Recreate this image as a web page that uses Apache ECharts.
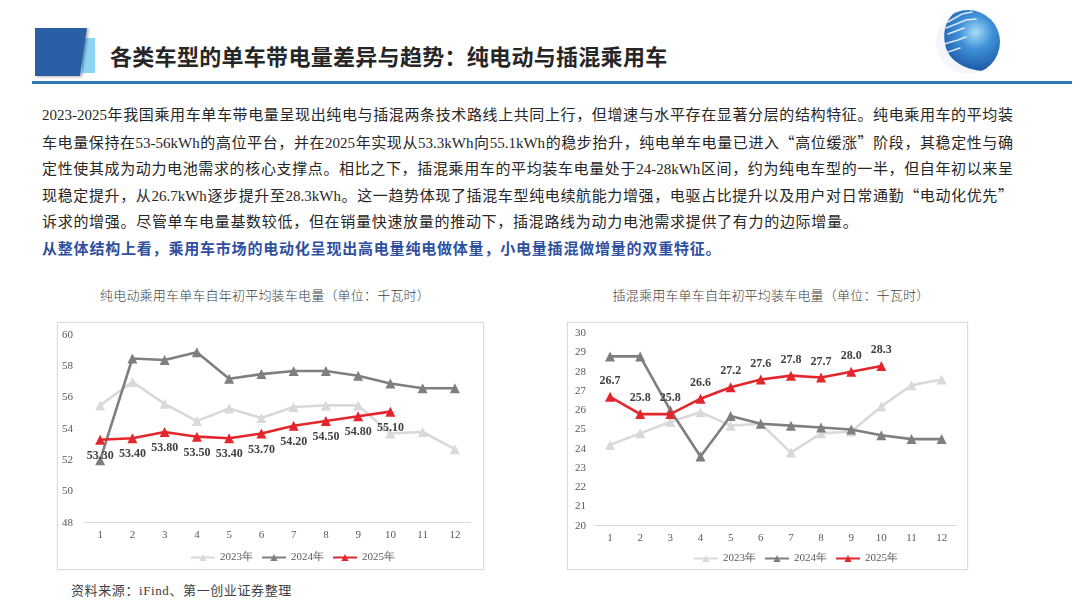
<!DOCTYPE html>
<html>
<head>
<meta charset="utf-8">
<script src="https://cdn.jsdelivr.net/npm/echarts@6/dist/echarts.min.js"></script>
<style>
  html, body { margin:0; padding:0; width:1080px; height:608px; background:#fff; overflow:hidden; }
  #page { position:relative; width:1080px; height:608px; }
  .abs { position:absolute; }
  #title { left:110px; top:40px; font-family:"Noto Sans CJK SC", sans-serif; font-weight:700; font-size:22px; color:#262626; line-height:30px; white-space:nowrap; letter-spacing:0.3px; }
  #rule { left:32px; top:81px; width:1040px; height:3px; background:#2e75b6; }
  .para { left:42px; width:971px; font-family:"Liberation Serif","Noto Sans CJK SC",serif; font-size:15px; color:#262626; line-height:26.7px; height:26.7px; white-space:nowrap; font-weight:400; }
  .just { text-align:justify; text-align-last:justify; white-space:normal; overflow:hidden; }
  .q { font-family:"Noto Sans CJK SC", sans-serif; }
  .blue { color:#2f4f9f; font-weight:700; letter-spacing:0.8px; }
  .ctitle { font-family:"Noto Sans CJK SC", sans-serif; font-size:13px; color:#404040; line-height:20px; white-space:nowrap; font-weight:300; letter-spacing:0.2px; transform:translateX(-50%); }
  .box { border:1px solid #dcdcdc; box-shadow:0 0 2px rgba(0,0,0,0.08); background:#fff; }
  #src { left:71px; top:581px; font-family:"Liberation Serif","Noto Sans CJK SC",serif; font-size:13px; color:#404040; line-height:20px; letter-spacing:0.6px; white-space:nowrap; }
  #chart { position:absolute; left:0; top:0; width:1080px; height:608px; z-index:2; }
</style>
</head>
<body>
<div id="page">
  <svg class="abs" style="left:0;top:0" width="1080" height="90">
    <defs>
      <radialGradient id="g1" cx="0.62" cy="0.35" r="0.75">
        <stop offset="0" stop-color="#a8dcf7"/>
        <stop offset="0.35" stop-color="#3f91d8"/>
        <stop offset="0.8" stop-color="#1d5aa8"/>
        <stop offset="1" stop-color="#173f86"/>
      </radialGradient>
      <filter id="sh" x="-20%" y="-20%" width="140%" height="140%">
        <feDropShadow dx="2" dy="1" stdDeviation="1.2" flood-color="#000" flood-opacity="0.3"/>
      </filter>
    </defs>
    <rect x="82" y="38" width="13" height="35" fill="#8dd4f5"/>
    <polygon points="35,28 87,28 80,76 35,76" fill="#2c5ea6" filter="url(#sh)"/>
    <circle cx="968" cy="42" r="32" fill="url(#g1)"/>
    <path d="M948 12 C926 28 924 62 960 75 C974 80 990 77 998 70 C976 74 952 66 946 48 C942 34 945 22 953 14 Z" fill="#fff" opacity="0.95"/>
    <path d="M948 22 L962 14 L972 12 M946 28 L966 20 L976 19 M948 34 L964 28 M944 44 L958 40 L966 37 M948 52 L960 48" stroke="#fff" stroke-width="1.6" stroke-linecap="round" opacity="0.8" fill="none"/>
  </svg>
  <div id="title" class="abs">各类车型的单车带电量差异与趋势：纯电动与插混乘用车</div>
  <div id="rule" class="abs"></div>

  <div class="abs para just" style="top:102.3px">2023-2025年我国乘用车单车带电量呈现出纯电与插混两条技术路线上共同上行，但增速与水平存在显著分层的结构特征。纯电乘用车的平均装</div>
  <div class="abs para just" style="top:129px">车电量保持在53-56kWh的高位平台，并在2025年实现从53.3kWh向55.1kWh的稳步抬升，纯电单车电量已进入<span class="q">“</span>高位缓涨<span class="q">”</span>阶段，其稳定性与确</div>
  <div class="abs para just" style="top:155.7px">定性使其成为动力电池需求的核心支撑点。相比之下，插混乘用车的平均装车电量处于24-28kWh区间，约为纯电车型的一半，但自年初以来呈</div>
  <div class="abs para just" style="top:182.4px">现稳定提升，从26.7kWh逐步提升至28.3kWh。这一趋势体现了插混车型纯电续航能力增强，电驱占比提升以及用户对日常通勤<span class="q">“</span>电动化优先<span class="q">”</span></div>
  <div class="abs para" style="top:209.1px;letter-spacing:0.7px">诉求的增强。尽管单车电量基数较低，但在销量快速放量的推动下，插混路线为动力电池需求提供了有力的边际增量。</div>
  <div class="abs para blue" style="top:235.8px">从整体结构上看，乘用车市场的电动化呈现出高电量纯电做体量，小电量插混做增量的双重特征。</div>

  <div class="abs ctitle" style="left:265px;top:285px">纯电动乘用车单车自年初平均装车电量（单位：千瓦时）</div>
  <div class="abs ctitle" style="left:771px;top:285px">插混乘用车单车自年初平均装车电量（单位：千瓦时）</div>

  <div class="abs box" style="left:57px;top:322px;width:425px;height:246px"></div>
  <div class="abs box" style="left:567px;top:322px;width:399px;height:246px"></div>

  <div id="src" class="abs">资料来源：iFind、第一创业证券整理</div>
  <div id="chart"></div>
</div>
<script>
const months = ['1','2','3','4','5','6','7','8','9','10','11','12'];
const seriesNames = ['2023年','2024年','2025年'];
const bev2023 = [55.5,57.0,55.6,54.5,55.3,54.7,55.4,55.5,55.5,53.7,53.8,52.7];
const bev2024 = [52.0,58.5,58.4,58.9,57.2,57.5,57.7,57.7,57.4,56.9,56.6,56.6];
const bev2025 = [53.3,53.4,53.8,53.5,53.4,53.7,54.2,54.5,54.8,55.1];
const phev2023 = [24.2,24.8,25.4,25.9,25.2,25.3,23.8,24.8,24.9,26.2,27.3,27.6];
const phev2024 = [28.8,28.8,26.0,23.6,25.7,25.3,25.2,25.1,25.0,24.7,24.5,24.5];
const phev2025 = [26.7,25.8,25.8,26.6,27.2,27.6,27.8,27.7,28.0,28.3];

const colors = ['#d9d9d9','#7f7f7f','#e3262c'];
const serif = 'Liberation Serif';

function mkSeries(idx, data, name, color, label) {
  const s = {
    type:'line', name:name, data:data, xAxisIndex:idx, yAxisIndex:idx,
    symbol:'triangle', symbolSize:10, smooth:false,
    lineStyle:{ color:color, width:2.6 },
    itemStyle:{ color:color },
    z: name === '2025年' ? 5 : (name === '2024年' ? 4 : 3),
    label:{ show:false }
  };
  if (label) s.label = label;
  return s;
}

const axisLabelStyle = { fontFamily:serif, fontSize:11, color:'#595959' };

const chart = echarts.init(document.getElementById('chart'), null, { renderer:'canvas' });
chart.setOption({
  animation:false,
  color:colors,
  grid:[
    { left:84, right:609, top:335, bottom:85.3 },
    { left:595, right:123.3, top:333.3, bottom:82.3 }
  ],
  xAxis:[
    { type:'category', gridIndex:0, data:months, boundaryGap:true,
      axisLine:{ lineStyle:{ color:'#d9d9d9', width:1 } }, axisTick:{ show:false },
      axisLabel:Object.assign({ margin:7 }, axisLabelStyle) },
    { type:'category', gridIndex:1, data:months, boundaryGap:true,
      axisLine:{ lineStyle:{ color:'#d9d9d9', width:1 } }, axisTick:{ show:false },
      axisLabel:Object.assign({ margin:7 }, axisLabelStyle) }
  ],
  yAxis:[
    { type:'value', gridIndex:0, min:48, max:60, interval:2,
      axisLine:{ show:false }, axisTick:{ show:false }, splitLine:{ show:false },
      axisLabel:Object.assign({ margin:11 }, axisLabelStyle) },
    { type:'value', gridIndex:1, min:20, max:30, interval:1,
      axisLine:{ show:false }, axisTick:{ show:false }, splitLine:{ show:false },
      axisLabel:Object.assign({ margin:9 }, axisLabelStyle) }
  ],
  legend:[
    { data:seriesNames, left:185, top:547, itemWidth:24, itemHeight:9, itemGap:8,
      textStyle:{ fontFamily:serif, fontSize:11, color:'#595959' } },
    { data:seriesNames, left:688, top:548, itemWidth:24, itemHeight:9, itemGap:8,
      textStyle:{ fontFamily:serif, fontSize:11, color:'#595959' } }
  ],
  series:[
    mkSeries(0, bev2023, seriesNames[0], colors[0]),
    mkSeries(0, bev2024, seriesNames[1], colors[1]),
    mkSeries(0, bev2025, seriesNames[2], colors[2], {
      show:true, position:'bottom', distance:5,
      fontFamily:serif, fontSize:12, fontWeight:'bold', color:'#404040',
      formatter:p => Number(p.value).toFixed(2)
    }),
    mkSeries(1, phev2023, seriesNames[0], colors[0]),
    mkSeries(1, phev2024, seriesNames[1], colors[1]),
    mkSeries(1, phev2025, seriesNames[2], colors[2], {
      show:true, position:'top', distance:5,
      fontFamily:serif, fontSize:12, fontWeight:'bold', color:'#404040',
      formatter:p => Number(p.value).toFixed(1)
    })
  ]
});
</script>
</body>
</html>
